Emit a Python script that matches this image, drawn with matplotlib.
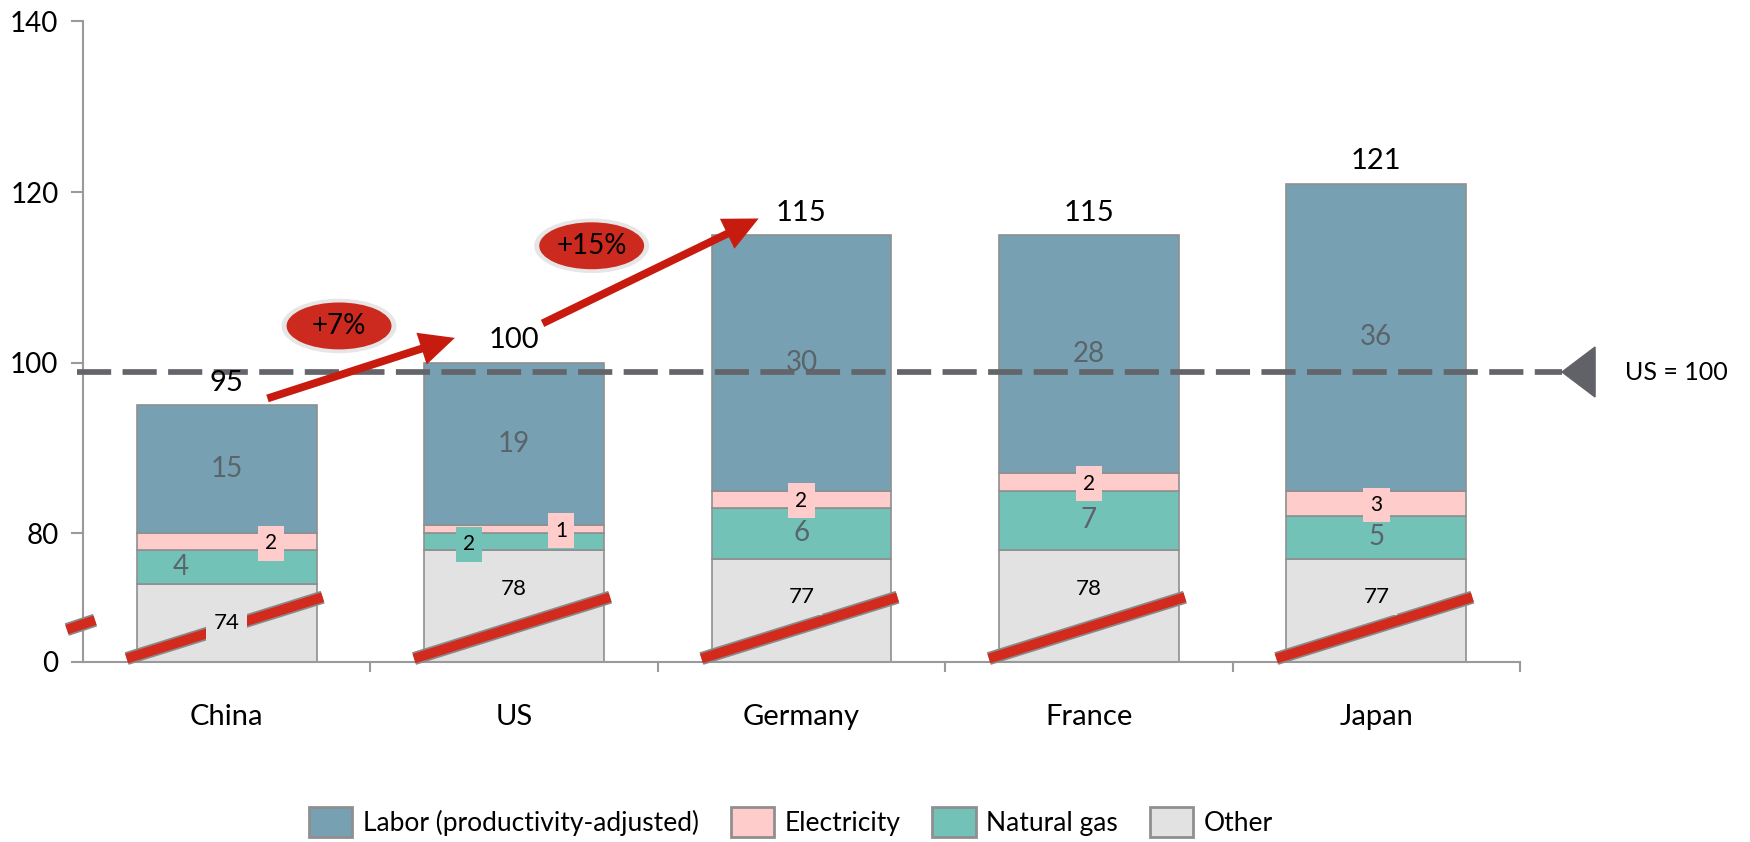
import numpy as np
import matplotlib.pyplot as plt
import matplotlib.patheffects as pe
from matplotlib.patches import Ellipse, Polygon, Patch

countries = ['China', 'US', 'Germany', 'France', 'Japan']
other = [74, 78, 77, 78, 77]
natural_gas = [4, 2, 6, 7, 5]
electricity = [2, 1, 2, 2, 3]
labor = [15, 19, 30, 28, 36]
totals = [95, 100, 115, 115, 121]
growth_labels = ['+7%', '+15%']
reference_label = 'US = 100'
reference_level = 98.9   # the dashed line sits a bit under 100 on the chart
axis_floor = 64.9        # broken axis: "0" is drawn here

# colours
c_labor = '#77a1b2'
c_elec = '#ffcccc'
c_gas = '#72c2b8'
c_other = '#e2e2e2'
c_edge = '#8f8f8f'
c_red = '#c81b10'
c_dash = '#63656b'

plt.rcParams['font.family'] = ['Lato', 'DejaVu Sans']


def main():
    fig = plt.figure(figsize=(17.5, 8.42), dpi=100)
    ax = fig.add_axes([0.0474, 0.2138, 0.8212, 0.7607])

    x = np.arange(len(countries))
    w = 0.626
    other_a = np.array(other, float)
    gas_a = np.array(natural_gas, float)
    elec_a = np.array(electricity, float)
    labor_a = np.array(labor, float)

    b1 = other_a
    b2 = b1 + gas_a
    b3 = b2 + elec_a

    kw = dict(width=w, edgecolor=c_edge, linewidth=1.2, zorder=2)
    ax.bar(x, other_a - axis_floor, bottom=axis_floor, color=c_other, **kw)
    ax.bar(x, gas_a, bottom=b1, color=c_gas, **kw)
    ax.bar(x, elec_a, bottom=b2, color=c_elec, **kw)
    ax.bar(x, labor_a, bottom=b3, color=c_labor, **kw)

    # break stripes across the bottom of each bar
    stroke = [pe.withStroke(linewidth=9.5, foreground='#8a8a8a')]
    for i in x:
        ax.plot([i - w / 2 - 0.035, i + w / 2 + 0.021], [65.3, 72.5],
                color='#d22a1c', lw=7, solid_capstyle='butt',
                path_effects=stroke, zorder=4, clip_on=False)
    # break mark on the y axis
    ax.plot([-0.556, -0.458], [68.7, 69.8], color='#d22a1c', lw=7,
            solid_capstyle='butt', path_effects=stroke, zorder=4, clip_on=False)

    # segment labels
    gas_dx = [-0.16, -0.157, 0, 0, 0]
    gas_boxed = [False, True, False, False, False]
    elec_dx = [0.154, 0.163, 0, 0, 0]
    for i in x:
        ax.text(i, b3[i] + labor_a[i] / 2, str(labor[i]), ha='center', va='center',
                fontsize=20, color='#5b636b', zorder=6)
        if gas_boxed[i]:
            ax.text(i + gas_dx[i], b1[i] + gas_a[i] / 2 - 0.3, str(natural_gas[i]),
                    ha='center', va='center', fontsize=15, color='black', zorder=6,
                    bbox=dict(boxstyle='square,pad=0.35', fc=c_gas, ec='none'))
        else:
            ax.text(i + gas_dx[i], b1[i] + gas_a[i] / 2, str(natural_gas[i]),
                    ha='center', va='center', fontsize=20, color='#5b636b', zorder=6)
        ax.text(i + elec_dx[i], b2[i] + elec_a[i] / 2 - 0.2, str(electricity[i]),
                ha='center', va='center', fontsize=15, color='black', zorder=7,
                bbox=dict(boxstyle='square,pad=0.35', fc=c_elec, ec='none'))
        ax.text(i, other_a[i] - 4.5, str(other[i]), ha='center', va='center',
                fontsize=16, color='black', zorder=6,
                bbox=dict(boxstyle='square,pad=0.35', fc=c_other, ec='none'))
        ax.text(i, totals[i] + 2.6, str(totals[i]), ha='center', va='center',
                fontsize=21, color='black', zorder=6)

    # US = 100 reference line
    ax.plot([-0.52, 4.646], [reference_level] * 2, color=c_dash, lw=4.1,
            dashes=(6, 2), zorder=5, clip_on=False)
    ax.add_patch(Polygon([(4.646, reference_level),
                          (4.761, reference_level + 2.93),
                          (4.761, reference_level - 2.93)],
                         closed=True, color='#616168', clip_on=False, zorder=5))
    ax.text(4.865, reference_level, reference_label, ha='left', va='center',
            fontsize=18, color='black')

    # growth arrows and badges
    arrows = [((0.142, totals[0] + 0.8), (0.794, totals[1] + 2.9)),
              ((1.099, totals[1] + 4.6), (1.851, totals[2] + 1.9))]
    badges = [(0.391, 104.3), (1.27, 113.7)]
    for (tail, tip), (bx, by), lab in zip(arrows, badges, growth_labels):
        ax.annotate('', xy=tip, xytext=tail, zorder=8,
                    arrowprops=dict(arrowstyle='simple,head_length=2.1,head_width=2.0,tail_width=0.47',
                                    fc=c_red, ec='none', mutation_scale=12,
                                    shrinkA=0, shrinkB=0))
        ax.add_patch(Ellipse((bx, by), 0.40, 6.4, fc='#e6e6e6', ec='none', zorder=8))
        ax.add_patch(Ellipse((bx, by), 0.365, 5.5, fc='#cc2a1e', ec='none', zorder=9))
        ax.text(bx, by, lab, ha='center', va='center', fontsize=20,
                color='black', zorder=10)

    # axes
    ax.set_xlim(-0.5, 4.5)
    ax.set_ylim(axis_floor, 140)
    ax.set_yticks([axis_floor, 80, 100, 120, 140], ['0', '80', '100', '120', '140'])
    ax.set_xticks(x, countries)
    ax.set_xticks(np.arange(0.5, 5, 1), minor=True)
    ax.tick_params(axis='y', length=8.6, width=1.5, color='#9a9a9a', pad=9,
                   labelsize=20)
    ax.tick_params(axis='x', which='major', length=0, pad=30, labelsize=21)
    ax.tick_params(axis='x', which='minor', length=7, width=1.5, color='#9a9a9a')
    for s in ['top', 'right']:
        ax.spines[s].set_visible(False)
    for s in ['left', 'bottom']:
        ax.spines[s].set_color('#9a9a9a')
        ax.spines[s].set_linewidth(1.5)

    handles = [Patch(fc=c_labor, ec=c_edge, lw=2, label='Labor (productivity-adjusted)'),
               Patch(fc=c_elec, ec=c_edge, lw=2, label='Electricity'),
               Patch(fc=c_gas, ec=c_edge, lw=2, label='Natural gas'),
               Patch(fc=c_other, ec=c_edge, lw=2, label='Other')]
    fig.legend(handles=handles, loc='center', bbox_to_anchor=(0.452, 0.0235),
               ncol=4, frameon=False, fontsize=19, handlelength=1.65,
               handleheight=1.4, handletextpad=0.4, columnspacing=1.2)

    fig.savefig('out.png', dpi=100)


if __name__ == '__main__':
    main()
